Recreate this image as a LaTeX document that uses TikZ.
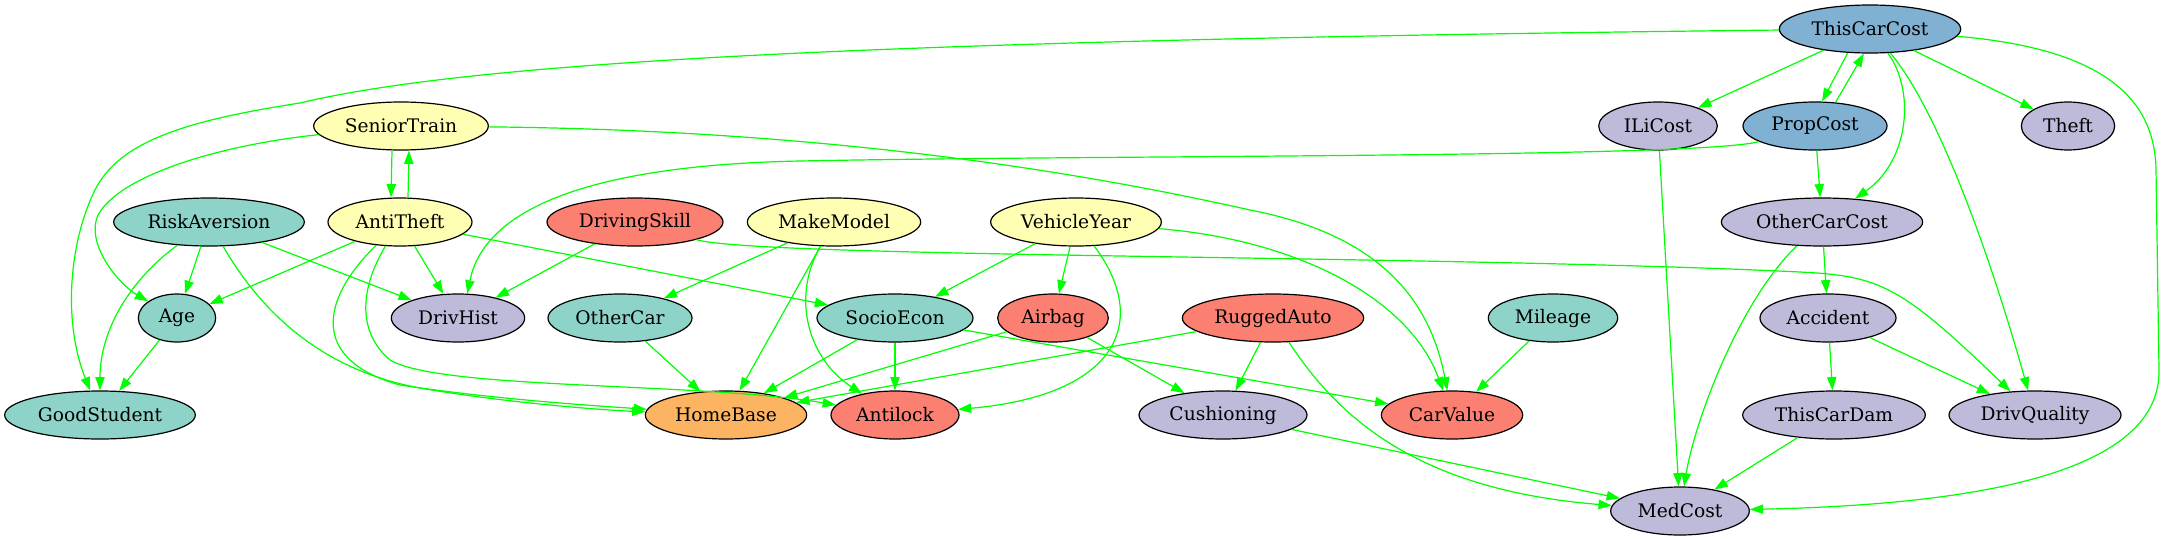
\documentclass[tikz,border=0pt]{standalone}
\usepackage{fontspec}
\setmainfont{DejaVu Serif}
\usepackage{tikz}
\usetikzlibrary{arrows.meta,shapes.geometric}
\definecolor{setteal}{HTML}{8DD3C7}
\definecolor{setyellow}{HTML}{FFFFB3}
\definecolor{setlilac}{HTML}{BEBADA}
\definecolor{setsalmon}{HTML}{FB8072}
\definecolor{setblue}{HTML}{80B1D3}
\definecolor{setorange}{HTML}{FDB462}
\definecolor{linkgreen}{HTML}{00FF00}

\begin{document}
\begin{tikzpicture}[x=0.75pt,y=-0.75pt,
    var/.style={ellipse,draw=black,line width=0.9pt,inner sep=0pt,
                minimum height=36pt,font=\fontsize{14}{16}\selectfont}]
\useasboundingbox (0,0) rectangle (2167,539);
\begin{scope}[every node/.style={var}]
    % row 1
    \node[fill=setblue,minimum width=136pt] (ThisCarCost) at (1870,29) {ThisCarCost};
    % row 2
    \node[fill=setyellow,minimum width=131pt] (SeniorTrain) at (401,126) {SeniorTrain};
    \node[fill=setlilac,minimum width=89pt] (ILiCost) at (1658,126) {ILiCost};
    \node[fill=setblue,minimum width=108pt] (PropCost) at (1815,126) {PropCost};
    \node[fill=setlilac,minimum width=70pt] (Theft) at (2068,126) {Theft};
    % row 3
    \node[fill=setteal,minimum width=143pt] (RiskAversion) at (209,222) {RiskAversion};
    \node[fill=setyellow,minimum width=108pt] (AntiTheft) at (400,222) {AntiTheft};
    \node[fill=setsalmon,minimum width=132pt] (DrivingSkill) at (635,222) {DrivingSkill};
    \node[fill=setyellow,minimum width=130pt] (MakeModel) at (834,222) {MakeModel};
    \node[fill=setyellow,minimum width=128pt] (VehicleYear) at (1076,222) {VehicleYear};
    \node[fill=setlilac,minimum width=151pt] (OtherCarCost) at (1822,222) {OtherCarCost};
    % row 4
    \node[fill=setteal,minimum width=58pt] (Age) at (177,318) {Age};
    \node[fill=setlilac,minimum width=100pt] (DrivHist) at (458,318) {DrivHist};
    \node[fill=setteal,minimum width=108pt] (OtherCar) at (620,318) {OtherCar};
    \node[fill=setteal,minimum width=117pt] (SocioEcon) at (895,318) {SocioEcon};
    \node[fill=setsalmon,minimum width=83pt] (Airbag) at (1053,318) {Airbag};
    \node[fill=setsalmon,minimum width=136pt] (RuggedAuto) at (1273,318) {RuggedAuto};
    \node[fill=setteal,minimum width=97pt] (Mileage) at (1553,318) {Mileage};
    \node[fill=setlilac,minimum width=102pt] (Accident) at (1828,318) {Accident};
    % row 5
    \node[fill=setteal,minimum width=143pt] (GoodStudent) at (100,415) {GoodStudent};
    \node[fill=setorange,minimum width=121pt] (HomeBase) at (726,415) {HomeBase};
    \node[fill=setsalmon,minimum width=96pt] (Antilock) at (895,415) {Antilock};
    \node[fill=setlilac,minimum width=126pt] (Cushioning) at (1223,415) {Cushioning};
    \node[fill=setsalmon,minimum width=106pt] (CarValue) at (1452,415) {CarValue};
    \node[fill=setlilac,minimum width=137pt] (ThisCarDam) at (1834,415) {ThisCarDam};
    \node[fill=setlilac,minimum width=129pt] (DrivQuality) at (2035,415) {DrivQuality};
    % row 6
    \node[fill=setlilac,minimum width=104pt] (MedCost) at (1680,511) {MedCost};
\end{scope}
\begin{scope}[>={Triangle[length=10pt,width=7pt]},
              linkgreen, line width=0.9pt,
              every edge/.style={draw=linkgreen,line width=0.9pt}]
    \path [->] (ThisCarCost) edge (ILiCost);
    \path [->] (ThisCarCost.227) edge (PropCost.74);
    \path [->] (PropCost.49) edge (ThisCarCost.256);
    \path [->] (ThisCarCost) edge (Theft);
    \draw [->] (ThisCarCost) .. controls (1915,90) and (1910,160) .. (OtherCarCost);
    \draw [->] (ThisCarCost) .. controls (1930,100) and (1980,220) .. (DrivQuality);
    \draw [->] (ThisCarCost) .. controls (2120,50) and (2155,110) .. (2156,170)
        -- (2159,370) .. controls (2161,480) and (1950,505) .. (MedCost);
    \draw [->] (ThisCarCost) .. controls (900,40) and (480,60) .. (300,103)
        .. controls (190,120) and (120,140) .. (95,190)
        .. controls (70,240) and (62,320) .. (GoodStudent);
    \path [->] ([xshift=-6.75pt]SeniorTrain.south) edge ([xshift=-6.75pt]AntiTheft.north);
    \path [->] ([xshift=6pt]AntiTheft.north) edge ([xshift=6pt]SeniorTrain.south);
    \draw [->] (SeniorTrain) .. controls (220,145) and (120,175) .. (98,215)
        .. controls (85,245) and (120,285) .. (Age);
    \draw [->] (SeniorTrain) .. controls (800,130) and (1050,165) .. (1250,210)
        .. controls (1380,235) and (1430,300) .. (CarValue);
    \draw [->] (PropCost) .. controls (1700,158) and (1100,155) .. (800,161)
        .. controls (600,165) and (485,205) .. (DrivHist.69);
    \path [->] (PropCost) edge (OtherCarCost);
    \path [->] (ILiCost) edge (MedCost);
    \path [->] (RiskAversion) edge (Age);
    \path [->] (RiskAversion) edge (DrivHist);
    \draw [->] (RiskAversion) .. controls (130,280) and (100,330) .. (GoodStudent);
    \draw [->] (RiskAversion) .. controls (260,310) and (320,370) .. (420,388)
        .. controls (500,402) and (600,410) .. (HomeBase);
    \path [->] (AntiTheft) edge (Age);
    \path [->] (AntiTheft) edge (DrivHist);
    \path [->] (AntiTheft) edge (SocioEcon);
    \draw [->] (AntiTheft) .. controls (320,300) and (310,360) .. (400,385)
        .. controls (500,400) and (600,406) .. (HomeBase);
    \draw [->] (AntiTheft) .. controls (362,285) and (355,330) .. (390,360)
        .. controls (440,390) and (700,382) .. (Antilock);
    \path [->] (DrivingSkill) edge (DrivHist);
    \draw [->] (DrivingSkill) .. controls (760,258) and (1450,255) .. (1800,272)
        .. controls (1880,276) and (1900,285) .. (DrivQuality);
    \path [->] (MakeModel) edge (OtherCar);
    \path [->] (MakeModel) edge (HomeBase);
    \draw [->] (MakeModel) .. controls (790,300) and (810,360) .. (Antilock);
    \path [->] (VehicleYear) edge (SocioEcon);
    \path [->] (VehicleYear) edge (Airbag);
    \draw [->] (VehicleYear) .. controls (1300,240) and (1410,300) .. (CarValue);
    \draw [->] (VehicleYear) .. controls (1150,320) and (1120,395) .. (Antilock);
    \path [->] (OtherCarCost) edge (Accident);
    \draw [->] (OtherCarCost) .. controls (1740,300) and (1695,420) .. (MedCost);
    \path [->] (Age) edge (GoodStudent);
    \path [->] (OtherCar) edge (HomeBase);
    \path [->] (SocioEcon) edge (HomeBase);
    \path [->] (SocioEcon) edge (Antilock);
    \path [->] (SocioEcon) edge (CarValue);
    \path [->] (Airbag) edge (HomeBase);
    \path [->] (Airbag) edge (Cushioning);
    \path [->] (RuggedAuto) edge (HomeBase);
    \path [->] (RuggedAuto) edge (Cushioning);
    \draw [->] (RuggedAuto) .. controls (1340,420) and (1420,490) .. (MedCost);
    \path [->] (Mileage) edge (CarValue);
    \path [->] (Accident) edge (ThisCarDam);
    \path [->] (Accident) edge (DrivQuality);
    \path [->] (Cushioning) edge (MedCost);
    \path [->] (ThisCarDam) edge (MedCost);
\end{scope}
\end{tikzpicture}
\end{document}
